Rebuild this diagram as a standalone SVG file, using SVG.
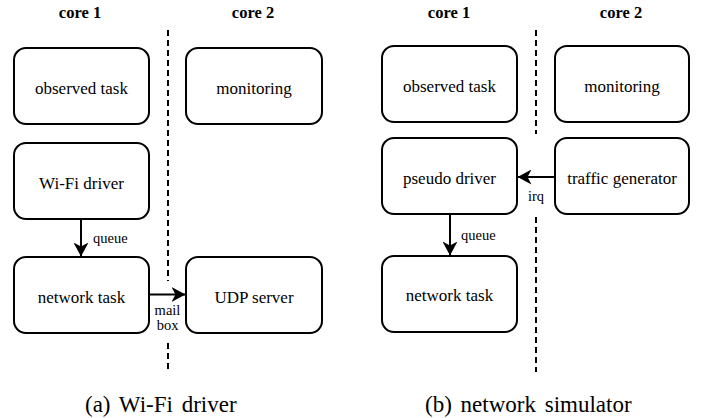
<svg xmlns="http://www.w3.org/2000/svg" width="708" height="418" viewBox="0 0 708 418">
<defs>
<marker id="arr" viewBox="0 0 14 15" refX="13.5" refY="7.5" markerWidth="14" markerHeight="15" markerUnits="userSpaceOnUse" orient="auto">
<path d="M0,0 L14,7.5 L0,15 L4,7.5 Z" fill="#000"/>
</marker>
</defs>
<g id="headers">
<text font-family="Liberation Serif" font-size="16.5" font-weight="bold" text-anchor="middle" x="80" y="17.5">core 1</text>
<text font-family="Liberation Serif" font-size="16.5" font-weight="bold" text-anchor="middle" x="253" y="17.5">core 2</text>
<text font-family="Liberation Serif" font-size="16.5" font-weight="bold" text-anchor="middle" x="449" y="17.5">core 1</text>
<text font-family="Liberation Serif" font-size="16.5" font-weight="bold" text-anchor="middle" x="621" y="17.5">core 2</text>
</g>
<g id="separators" stroke="#000" stroke-width="2" stroke-dasharray="6 4" fill="none">
<line x1="168" y1="30" x2="168" y2="281"/>
<line x1="168" y1="343" x2="168" y2="372"/>
<line x1="536" y1="30" x2="536" y2="134"/>
<line x1="536" y1="217" x2="536" y2="372"/>
</g>
<g id="a-observed"><rect fill="#fff" stroke="#000" stroke-width="2" x="14" y="48" width="135" height="76" rx="12"/><text font-family="Liberation Serif" font-size="17" text-anchor="middle" x="81.5" y="94">observed task</text></g>
<g id="a-monitoring"><rect fill="#fff" stroke="#000" stroke-width="2" x="186" y="48" width="136" height="76" rx="12"/><text font-family="Liberation Serif" font-size="17" text-anchor="middle" x="254" y="94">monitoring</text></g>
<g id="a-wifi"><rect fill="#fff" stroke="#000" stroke-width="2" x="14" y="143" width="135" height="76" rx="12"/><text font-family="Liberation Serif" font-size="17" text-anchor="middle" x="81.5" y="188.5">Wi-Fi driver</text></g>
<g id="a-network"><rect fill="#fff" stroke="#000" stroke-width="2" x="14" y="257" width="135" height="76" rx="12"/><text font-family="Liberation Serif" font-size="17" text-anchor="middle" x="81.5" y="302.5">network task</text></g>
<g id="a-udp"><rect fill="#fff" stroke="#000" stroke-width="2" x="186" y="257" width="136" height="76" rx="12"/><text font-family="Liberation Serif" font-size="17" text-anchor="middle" x="254" y="302.5">UDP server</text></g>
<g id="b-observed"><rect fill="#fff" stroke="#000" stroke-width="2" x="382" y="46" width="135" height="76" rx="12"/><text font-family="Liberation Serif" font-size="17" text-anchor="middle" x="449.5" y="91.5">observed task</text></g>
<g id="b-monitoring"><rect fill="#fff" stroke="#000" stroke-width="2" x="555" y="46" width="134" height="76" rx="12"/><text font-family="Liberation Serif" font-size="17" text-anchor="middle" x="622" y="91.5">monitoring</text></g>
<g id="b-pseudo"><rect fill="#fff" stroke="#000" stroke-width="2" x="382" y="138" width="135" height="76" rx="12"/><text font-family="Liberation Serif" font-size="17" text-anchor="middle" x="449.5" y="183.5">pseudo driver</text></g>
<g id="b-traffic"><rect fill="#fff" stroke="#000" stroke-width="2" x="555" y="138" width="134" height="76" rx="12"/><text font-family="Liberation Serif" font-size="17" text-anchor="middle" x="622" y="183.5">traffic generator</text></g>
<g id="b-network"><rect fill="#fff" stroke="#000" stroke-width="2" x="382" y="256" width="135" height="76" rx="12"/><text font-family="Liberation Serif" font-size="17" text-anchor="middle" x="449.5" y="301">network task</text></g>
<g id="connectors">
<line stroke="#000" stroke-width="2" x1="81" y1="220" x2="81" y2="256" marker-end="url(#arr)"/>
<line stroke="#000" stroke-width="2" x1="150" y1="294.5" x2="185" y2="294.5" marker-end="url(#arr)"/>
<line stroke="#000" stroke-width="2" x1="555" y1="177" x2="518" y2="177" marker-end="url(#arr)"/>
<line stroke="#000" stroke-width="2" x1="450" y1="215" x2="450" y2="255" marker-end="url(#arr)"/>
<text font-family="Liberation Serif" font-size="14.5" x="93" y="242.5">queue</text>
<text font-family="Liberation Serif" font-size="14.5" text-anchor="middle" x="167.5" y="315">mail</text>
<text font-family="Liberation Serif" font-size="14.5" text-anchor="middle" x="167.5" y="330">box</text>
<text font-family="Liberation Serif" font-size="14.5" text-anchor="middle" x="536" y="201">irq</text>
<text font-family="Liberation Serif" font-size="14.5" x="461" y="240">queue</text>
</g>
<g id="captions">
<text font-family="Liberation Serif" font-size="23" word-spacing="3" x="85" y="412">(a) Wi-Fi driver</text>
<text font-family="Liberation Serif" font-size="23" word-spacing="3" x="425" y="412">(b) network simulator</text>
</g>
</svg>
